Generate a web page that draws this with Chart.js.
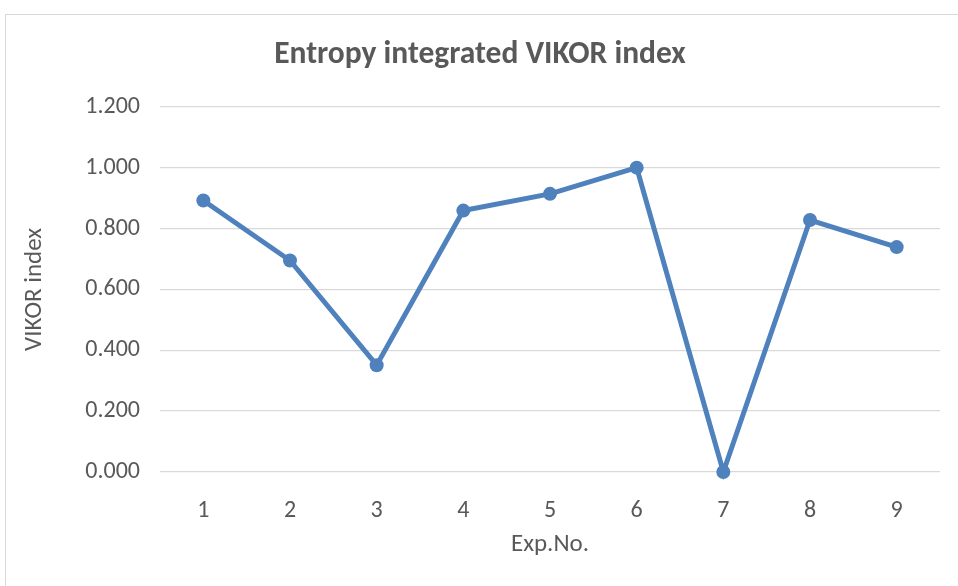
<!DOCTYPE html>
<html>
<head>
<meta charset="utf-8">
<script src="https://cdn.jsdelivr.net/npm/chart.js@4"></script>
<style>
  html, body { margin: 0; padding: 0; background: #fff; overflow: hidden; }
  .frame { position: absolute; left: 5px; top: 14px; width: 1000px; height: 600px;
           border-left: 1.5px solid #d9d9d9; border-top: 1.5px solid #d9d9d9; }
  .wrap { position: absolute; left: 0; top: 0; width: 958px; height: 586px; }
</style>
</head>
<body>
<div class="frame"></div>
<div class="wrap"><canvas id="chart" width="958" height="586"></canvas></div>
<script>
// Entropy integrated VIKOR index per experiment
const expNo = ['1', '2', '3', '4', '5', '6', '7', '8', '9'];
const vikor = [0.892, 0.695, 0.351, 0.859, 0.914, 1.000, 0.000, 0.828, 0.739];
const yTicks = [0, 0.2, 0.4, 0.6, 0.8, 1.0, 1.2];

const FONT = "'Carlito', 'Noto Sans', sans-serif";
const GREY = '#595959';
const BLUE = '#4f81bd';

new Chart(document.getElementById('chart'), {
  type: 'line',
  data: {
    labels: expNo,
    datasets: [{
      data: vikor,
      borderColor: BLUE,
      backgroundColor: BLUE,
      borderWidth: 5,
      pointRadius: 7,
      pointHoverRadius: 7,
      pointBorderWidth: 0,
      tension: 0,
      clip: false
    }]
  },
  options: {
    responsive: false,
    animation: false,
    layout: { padding: { left: 20, right: 18, top: 0, bottom: 20 } },
    plugins: {
      legend: { display: false },
      tooltip: { enabled: false },
      title: {
        display: true,
        text: 'Entropy integrated VIKOR index',
        color: GREY,
        font: { family: FONT, size: 31.5, weight: 'bold' },
        padding: { top: 36, bottom: 33 }
      }
    },
    scales: {
      x: {
        offset: true,
        grid: { display: false },
        border: { display: false },
        ticks: { color: GREY, font: { family: FONT, size: 24 }, padding: 17 },
        title: { display: true, text: 'Exp.No.', color: GREY, font: { family: FONT, size: 25 }, padding: { top: 4, bottom: 6 } },
        afterFit: s => { s.height = 94; }
      },
      y: {
        min: 0,
        max: 1.2,
        afterBuildTicks: s => { s.ticks = yTicks.map(v => ({ value: v })); },
        grid: { color: '#d9d9d9', lineWidth: 1.3, drawTicks: false },
        border: { display: false },
        ticks: { color: GREY, font: { family: FONT, size: 24 }, padding: 20, callback: v => v.toFixed(3) },
        title: { display: true, text: 'VIKOR index', color: GREY, font: { family: FONT, size: 25 }, padding: 0 },
        afterFit: s => { s.width = 140; }
      }
    }
  }
});
</script>
</body>
</html>
